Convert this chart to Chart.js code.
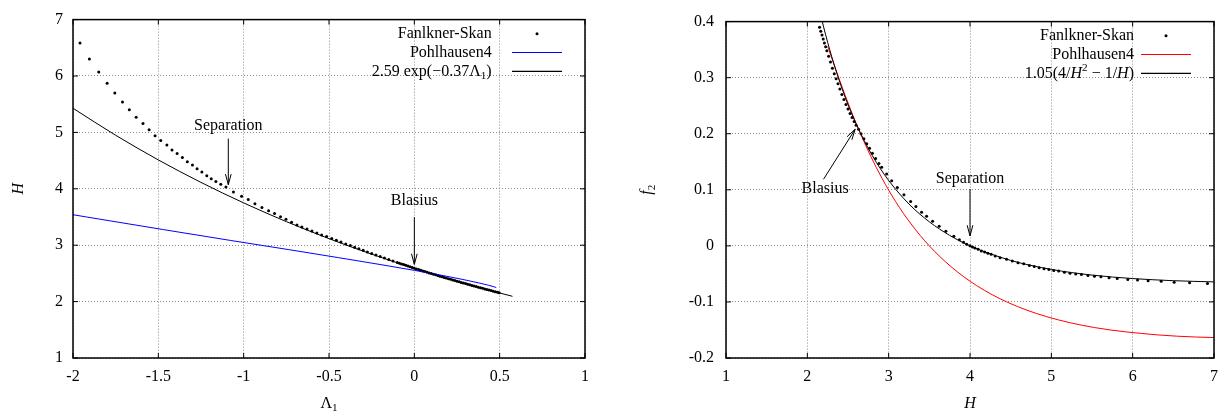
<!DOCTYPE html>
<html>
<head>
<meta charset="utf-8">
<script src="https://cdn.jsdelivr.net/npm/chart.js@4.4.0/dist/chart.umd.min.js"></script>
<style>
    body { margin: 0; background: #fff; }
    .wrap { display: flex; width: 1230px; height: 416px; }
    canvas { display: block; }
</style>
</head>
<body>
<div class="wrap">
    <canvas id="leftChart" width="615" height="416"></canvas>
    <canvas id="rightChart" width="615" height="416"></canvas>
</div>
<script>
// ---------- Data: left panel (H vs Lambda1) ----------
const fsLeftX = [-1.959, -1.904, -1.849, -1.800, -1.755, -1.710, -1.670, -1.630, -1.590, -1.554,
    -1.519, -1.486, -1.450, -1.420, -1.390, -1.359, -1.330, -1.300, -1.273, -1.245,
    -1.216, -1.190, -1.163, -1.134, -1.104, -1.060, -1.012, -0.973, -0.934, -0.893,
    -0.854, -0.819, -0.784, -0.752, -0.719, -0.688, -0.659, -0.629, -0.600, -0.571,
    -0.543, -0.514, -0.484, -0.457, -0.430, -0.402, -0.375, -0.350, -0.325, -0.300,
    -0.275, -0.250, -0.225, -0.200, -0.175, -0.150, -0.125, -0.100, -0.0875, -0.075,
    -0.0625, -0.050, -0.0375, -0.025, -0.0125, 0, 0.0125, 0.025, 0.0375, 0.050,
    0.0625, 0.075, 0.0875, 0.100, 0.1125, 0.125, 0.1375, 0.150, 0.1625, 0.175,
    0.1875, 0.200, 0.2125, 0.225, 0.2375, 0.250, 0.2625, 0.275, 0.2875, 0.300,
    0.3125, 0.325, 0.3375, 0.350, 0.3625, 0.375, 0.3875, 0.400, 0.4125, 0.425,
    0.4375, 0.450, 0.4625, 0.475, 0.4875, 0.497];
const fsLeftY = [6.585, 6.300, 6.070, 5.870, 5.700, 5.540, 5.400, 5.270, 5.160, 5.045,
    4.940, 4.855, 4.775, 4.690, 4.625, 4.556, 4.480, 4.420, 4.354, 4.300,
    4.230, 4.180, 4.130, 4.080, 4.030, 3.945, 3.869, 3.810, 3.737, 3.668,
    3.609, 3.564, 3.505, 3.460, 3.408, 3.360, 3.322, 3.287, 3.250, 3.218,
    3.183, 3.154, 3.117, 3.087, 3.055, 3.021, 2.993, 2.965, 2.937, 2.909,
    2.881, 2.853, 2.826, 2.799, 2.772, 2.746, 2.720, 2.694, 2.681, 2.668,
    2.656, 2.643, 2.631, 2.618, 2.606, 2.593, 2.580, 2.568, 2.556, 2.544,
    2.532, 2.520, 2.509, 2.497, 2.485, 2.474, 2.462, 2.451, 2.439, 2.428,
    2.417, 2.406, 2.395, 2.384, 2.373, 2.362, 2.351, 2.340, 2.329, 2.319,
    2.308, 2.298, 2.287, 2.277, 2.266, 2.256, 2.245, 2.236, 2.225, 2.216,
    2.205, 2.196, 2.184, 2.176, 2.165, 2.157];

const pohlLeftX = [-2.042, -1.920, -1.469, -1.076, -0.735, -0.444, -0.201, 0, 0.161, 0.285, 0.375, 0.436, 0.469, 0.480];
const pohlLeftY = [3.562, 3.500, 3.276, 3.084, 2.921, 2.779, 2.658, 2.554, 2.466, 2.392, 2.333, 2.289, 2.260, 2.250];

const fitLeftX = [-2, -1.75, -1.5, -1.25, -1, -0.75, -0.5, -0.25, 0, 0.25, 0.5, 0.575];
const fitLeftY = [5.428, 4.949, 4.512, 4.113, 3.750, 3.418, 3.116, 2.841, 2.590, 2.361, 2.153, 2.094];

const leftXTicks = [-2, -1.5, -1, -0.5, 0, 0.5, 1];
const leftXLabels = ['-2', '-1.5', '-1', '-0.5', '0', '0.5', '1'];
const leftYTicks = [1, 2, 3, 4, 5, 6, 7];
const leftYLabels = ['1', '2', '3', '4', '5', '6', '7'];

// ---------- Data: right panel (f2 vs H) ----------
const fsRightX = [2.150, 2.165, 2.180, 2.195, 2.210, 2.225, 2.240, 2.262, 2.285, 2.308,
    2.331, 2.354, 2.377, 2.400, 2.425, 2.450, 2.475, 2.500, 2.525, 2.550,
    2.575, 2.600, 2.630, 2.660, 2.695, 2.730, 2.765, 2.800, 2.840, 2.880,
    2.914, 2.975, 3.037, 3.106, 3.188, 3.270, 3.335, 3.405, 3.466, 3.540,
    3.621, 3.703, 3.801, 3.870, 3.920, 3.960, 4.000, 4.030, 4.060, 4.100,
    4.140, 4.180, 4.220, 4.260, 4.310, 4.370, 4.450, 4.520, 4.590, 4.660,
    4.730, 4.790, 4.850, 4.910, 4.970, 5.030, 5.090, 5.160, 5.230, 5.300,
    5.370, 5.450, 5.530, 5.610, 5.710, 5.810, 5.940, 6.060, 6.190, 6.350,
    6.510, 6.700, 6.920];
const fsRightY = [0.390, 0.383, 0.376, 0.369, 0.362, 0.355, 0.348, 0.338, 0.328, 0.317,
    0.307, 0.298, 0.289, 0.280, 0.270, 0.261, 0.252, 0.244, 0.236, 0.229,
    0.222, 0.215, 0.208, 0.200, 0.191, 0.182, 0.174, 0.165, 0.156, 0.147,
    0.140, 0.128, 0.116, 0.104, 0.091, 0.079, 0.070, 0.060, 0.053, 0.044,
    0.035, 0.026, 0.017, 0.011, 0.0065, 0.003, 0.000, -0.002, -0.004, -0.006,
    -0.009, -0.011, -0.013, -0.015, -0.018, -0.021, -0.024, -0.027, -0.030, -0.032,
    -0.035, -0.037, -0.039, -0.041, -0.042, -0.044, -0.045, -0.047, -0.049, -0.050,
    -0.051, -0.053, -0.054, -0.055, -0.057, -0.058, -0.060, -0.061, -0.062, -0.063,
    -0.065, -0.066, -0.067];

const pohlRightX = [2.250, 2.260, 2.289, 2.333, 2.392, 2.466, 2.554, 2.658, 2.779, 2.921,
    3.084, 3.276, 3.500, 3.765, 4.081, 4.464, 4.937, 5.531, 6.300, 6.775, 7.040];
const pohlRightY = [0.3556, 0.3515, 0.3398, 0.3214, 0.2973, 0.2681, 0.2349, 0.1986, 0.1599, 0.1198,
    0.0793, 0.0390, 0.0000, -0.0369, -0.0708, -0.1008, -0.1260, -0.1457, -0.1587, -0.1626, -0.1637];

const fitRightX = [2.15, 2.2, 2.25, 2.3, 2.4, 2.5, 2.6, 2.8, 3.0, 3.25, 3.5, 3.75, 4.0, 4.5, 5.0, 5.5, 6.0, 6.5, 7.0];
const fitRightY = [0.4202, 0.3905, 0.3630, 0.3374, 0.2917, 0.2520, 0.2175, 0.1607, 0.1167, 0.0746,
    0.0429, 0.0187, 0, -0.0259, -0.0420, -0.0521, -0.0583, -0.0621, -0.0643];

const rightXTicks = [1, 2, 3, 4, 5, 6, 7];
const rightXLabels = ['1', '2', '3', '4', '5', '6', '7'];
const rightYTicks = [-0.2, -0.1, 0, 0.1, 0.2, 0.3, 0.4];
const rightYLabels = ['-0.2', '-0.1', '0', '0.1', '0.2', '0.3', '0.4'];

// ---------- Labels ----------
const FONT = '"Liberation Serif", "Times New Roman", serif';
const FS = 16;

const leftLegend = [
    [{ t: 'Fanlkner-Skan' }],
    [{ t: 'Pohlhausen4' }],
    [{ t: '2.59 exp(\u22120.37\u039b' }, { t: '1', sub: true }, { t: ')' }],
];
const rightLegend = [
    [{ t: 'Fanlkner-Skan' }],
    [{ t: 'Pohlhausen4' }],
    [{ t: '1.05(4/' }, { t: 'H', it: true }, { t: '2', sup: true }, { t: ' \u2212 1/' }, { t: 'H', it: true }, { t: ')' }],
];

const leftNotes = [
    { text: 'Separation', at: [-1.09, 5.12], from: [-1.09, 4.89], to: [-1.09, 4.072] },
    { text: 'Blasius', at: [0, 3.796], from: [0, 3.497], to: [0, 2.66] },
];
const rightNotes = [
    { text: 'Blasius', at: [2.219, 0.1015], from: [2.199, 0.1188], to: [2.588, 0.208] },
    { text: 'Separation', at: [4.0, 0.12], from: [4.0, 0.1015], to: [4.0, 0.0178] },
];

// ---------- Helpers ----------
const pts = (xs, ys) => xs.map((x, i) => ({ x, y: ys[i] }));

function partFont(p) {
    const size = (p.sub || p.sup) ? FS * 0.7 : FS;
    return (p.it ? 'italic ' : '') + size + 'px ' + FONT;
}

function drawRich(ctx, parts, x, y, align) {
    let w = 0;
    parts.forEach(p => { ctx.font = partFont(p); w += ctx.measureText(p.t).width; });
    let cx = align === 'right' ? x - w : align === 'center' ? x - w / 2 : x;
    ctx.textAlign = 'left';
    ctx.textBaseline = 'middle';
    parts.forEach(p => {
        ctx.font = partFont(p);
        const dy = p.sub ? FS * 0.3 : p.sup ? -FS * 0.32 : 0;
        ctx.fillText(p.t, cx, y + dy);
        cx += ctx.measureText(p.t).width;
    });
}

function arrow(ctx, x1, y1, x2, y2) {
    const ang = Math.atan2(y2 - y1, x2 - x1);
    const len = 11, spread = Math.PI / 12;
    ctx.beginPath();
    ctx.moveTo(x1, y1);
    ctx.lineTo(x2, y2);
    ctx.moveTo(x2 - len * Math.cos(ang - spread), y2 - len * Math.sin(ang - spread));
    ctx.lineTo(x2, y2);
    ctx.lineTo(x2 - len * Math.cos(ang + spread), y2 - len * Math.sin(ang + spread));
    ctx.stroke();
}

// gnuplot-ish frame, mirrored ticks, key, labels and axis titles
const gnuplotPlugin = {
    id: 'gnuplot',
    afterDraw(chart, args, opts) {
        const { ctx, chartArea: a, scales: { x, y } } = chart;
        ctx.save();

        // ticks on all four sides
        ctx.strokeStyle = '#000';
        ctx.lineWidth = 1;
        ctx.beginPath();
        x.ticks.forEach(t => {
            const px = x.getPixelForValue(t.value);
            ctx.moveTo(px, a.bottom); ctx.lineTo(px, a.bottom - 5);
            ctx.moveTo(px, a.top); ctx.lineTo(px, a.top + 5);
        });
        y.ticks.forEach(t => {
            const py = y.getPixelForValue(t.value);
            ctx.moveTo(a.left, py); ctx.lineTo(a.left + 5, py);
            ctx.moveTo(a.right, py); ctx.lineTo(a.right - 5, py);
        });
        ctx.stroke();
        ctx.lineWidth = 1.5;
        ctx.strokeRect(a.left, a.top, a.right - a.left, a.bottom - a.top);

        // key
        ctx.fillStyle = '#000';
        const rows = [14.1, 32.9, 51.7];
        chart.data.datasets.forEach((ds, i) => {
            const yy = a.top + rows[i];
            drawRich(ctx, opts.legend[i], a.right - opts.keyText, yy, 'right');
            const s0 = a.right - 73, s1 = a.right - 23;
            if (ds.showLine) {
                ctx.strokeStyle = ds.borderColor;
                ctx.lineWidth = 1.2;
                ctx.beginPath();
                ctx.moveTo(s0, yy); ctx.lineTo(s1, yy);
                ctx.stroke();
            } else {
                ctx.beginPath();
                ctx.arc((s0 + s1) / 2, yy, ds.pointRadius, 0, Math.PI * 2);
                ctx.fill();
            }
        });

        // labels with arrows
        ctx.strokeStyle = '#000';
        ctx.lineWidth = 1;
        opts.notes.forEach(n => {
            drawRich(ctx, [{ t: n.text }], x.getPixelForValue(n.at[0]), y.getPixelForValue(n.at[1]), 'center');
            arrow(ctx, x.getPixelForValue(n.from[0]), y.getPixelForValue(n.from[1]),
                x.getPixelForValue(n.to[0]), y.getPixelForValue(n.to[1]));
        });

        // axis titles
        const cxm = (a.left + a.right) / 2, cym = (a.top + a.bottom) / 2;
        drawRich(ctx, opts.xTitle, cxm, a.bottom + 45.5, 'center');
        ctx.translate(a.left - opts.yTitleOff, cym);
        ctx.rotate(-Math.PI / 2);
        drawRich(ctx, opts.yTitle, 0, 0, 'center');
        ctx.restore();
    },
};

function axis(min, max, ticks, labels, pad, fit) {
    return {
        type: 'linear',
        min, max,
        afterFit: fit,
        afterBuildTicks: s => { s.ticks = ticks.map(v => ({ value: v })); },
        ticks: {
            color: '#000',
            font: { family: FONT, size: FS },
            padding: pad,
            autoSkip: false,
            maxRotation: 0,
            callback: (v, i) => labels[i],
        },
        grid: { color: '#8a8a8a', lineWidth: 1, drawTicks: false },
        border: { display: false, dash: [1, 2] },
    };
}

function dotsSet(label, xs, ys) {
    return { label, data: pts(xs, ys), showLine: false, pointRadius: 1.5,
        pointBackgroundColor: '#000', pointBorderWidth: 0, order: 3 };
}

function lineSet(label, xs, ys, color, order) {
    return { label, data: pts(xs, ys), showLine: true, pointRadius: 0, borderColor: color,
        borderWidth: 1, fill: false, cubicInterpolationMode: 'monotone', order };
}

function makeChart(id, cfg) {
    return new Chart(document.getElementById(id), {
        type: 'scatter',
        data: { datasets: cfg.datasets },
        options: {
            responsive: false,
            animation: false,
            devicePixelRatio: 1,
            events: [],
            layout: { padding: cfg.padding },
            plugins: {
                legend: { display: false },
                tooltip: { enabled: false },
                gnuplot: cfg.extra,
            },
            scales: { x: cfg.x, y: cfg.y },
        },
        plugins: [gnuplotPlugin],
    });
}

// ---------- Left chart ----------
makeChart('leftChart', {
    padding: { top: 11, right: 30, bottom: 0, left: 0 },
    datasets: [
        dotsSet('Fanlkner-Skan', fsLeftX, fsLeftY),
        lineSet('Pohlhausen4', pohlLeftX, pohlLeftY, '#0000ff', 2),
        lineSet('2.59 exp(-0.37\u039b1)', fitLeftX, fitLeftY, '#000000', 1),
    ],
    x: axis(-2, 1, leftXTicks, leftXLabels, 9, s => { s.height = 58; }),
    y: axis(1, 7, leftYTicks, leftYLabels, 10, s => { s.width = 73; }),
    extra: {
        legend: leftLegend,
        keyText: 93.3,
        notes: leftNotes,
        xTitle: [{ t: '\u039b' }, { t: '1', sub: true }],
        yTitle: [{ t: 'H', it: true }],
        yTitleOff: 54,
    },
});

// ---------- Right chart ----------
makeChart('rightChart', {
    padding: { top: 11, right: 16, bottom: 0, left: 0 },
    datasets: [
        dotsSet('Fanlkner-Skan', fsRightX, fsRightY),
        lineSet('Pohlhausen4', pohlRightX, pohlRightY, '#ff0000', 2),
        lineSet('1.05(4/H^2 - 1/H)', fitRightX, fitRightY, '#000000', 1),
    ],
    x: axis(1, 7, rightXTicks, rightXLabels, 9, s => { s.height = 58; }),
    y: axis(-0.2, 0.4, rightYTicks, rightYLabels, 12, s => { s.width = 111; }),
    extra: {
        legend: rightLegend,
        keyText: 80,
        notes: rightNotes,
        xTitle: [{ t: 'H', it: true }],
        yTitle: [{ t: 'f', it: true }, { t: '2', sub: true }],
        yTitleOff: 79,
    },
});
</script>
</body>
</html>
